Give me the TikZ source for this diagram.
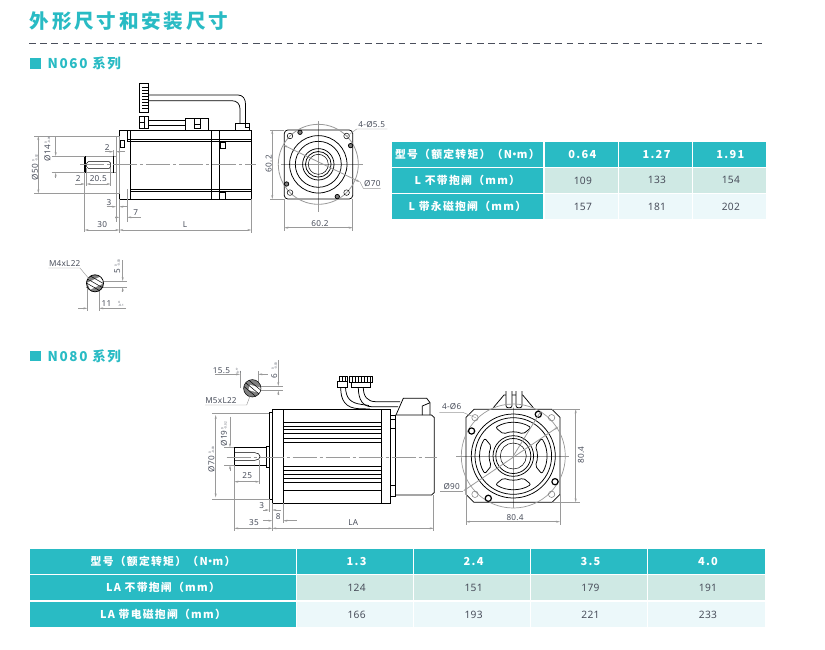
\documentclass[tikz,border=0pt]{standalone}
\usepackage{fontspec}
\setmainfont[LetterSpace=3]{Noto Sans}
\newfontfamily\cjk[LetterSpace=12]{Noto Sans CJK SC}
\newfontfamily\cjkwide[LetterSpace=14]{Noto Sans CJK SC}
\usetikzlibrary{arrows.meta}
\definecolor{teal}{HTML}{29BBC4}
\definecolor{rowa}{HTML}{CFE9E4}
\definecolor{rowb}{HTML}{ECF8FA}
\definecolor{inkgray}{HTML}{4A4F5C}
\definecolor{dimgray}{HTML}{9A9A9A}
\tikzset{
  part/.style={draw=black,line width=0.75pt},
  thin part/.style={draw=black,line width=0.5pt},
  ext/.style={draw=dimgray,line width=0.45pt},
  dimline/.style={draw=dimgray,line width=0.45pt,>={Stealth[length=4pt,width=2pt]}},
  axisline/.style={draw=dimgray,line width=0.4pt,dash pattern=on 24pt off 3pt on 3pt off 3pt},
  lab/.style={text=inkgray,font=\fontsize{8.2}{9}\selectfont,inner sep=0},
  tol/.style={text=inkgray,font=\fontsize{3}{3.2}\selectfont,inner sep=0,align=left},
  headcell/.style={fill=teal,text=white,inner sep=0,outer sep=0,font=\cjk\bfseries\fontsize{10.8}{12}\selectfont},
  valcell/.style={fill=teal,text=white,inner sep=0,outer sep=0,font=\cjk\bfseries\fontsize{11}{12}\selectfont},
  acell/.style={fill=rowa,text=inkgray,inner sep=0,outer sep=0,font=\fontsize{10.2}{12}\selectfont},
  bcell/.style={fill=rowb,text=inkgray,inner sep=0,outer sep=0,font=\fontsize{10.2}{12}\selectfont},
  heading/.style={text=teal,inner sep=0,anchor=west,font=\cjk\bfseries\fontsize{13.5}{14}\selectfont},
  bullet/.style={fill=teal,inner sep=0,minimum size=10.5pt},
}
% cell: name, x1, x2, y1, y2, style, text
\newcommand\tcell[7]{%
  \pgfmathsetmacro\cw{#3-#2}\pgfmathsetmacro\ch{#5-#4}%
  \pgfmathsetmacro\cx{(#2+#3)/2}\pgfmathsetmacro\cy{(#4+#5)/2}%
  \node[#6,minimum width=\cw pt,minimum height=\ch pt] (#1) at (\cx,\cy) {#7};}
\newcommand\dimh[3]{\draw[dimline,<->] (#1,#3) -- (#2,#3);}
\newcommand\dimv[3]{\draw[dimline,<->] (#3,#1) -- (#3,#2);}

\begin{document}
\begin{tikzpicture}[x=1pt,y=-1pt]
  % Boundary
  \path[use as bounding box,fill=white] (0,0) rectangle (825,649);
  % Title
  \node[text=teal,inner sep=0,anchor=west,font=\cjkwide\bfseries\fontsize{19.6}{20}\selectfont] (title) at (29.5,21.5) {外形尺寸和安装尺寸};
  \draw[draw=inkgray,line width=0.8pt,dash pattern=on 6.6pt off 4.6pt] (29,43.5) -- (762,43.5);
  \node[bullet] (bulleta) at (35.7,63.7) {};
  \node[heading] (heada) at (47.5,63.7) {N060 系列};
  \node[bullet] (bulletb) at (35.7,356) {};
  \node[heading] (headb) at (47.5,356) {N080 系列};

  % Table N060
  \tcell{ta0}{391.7}{543}{141.7}{166.7}{headcell}{型号（额定转矩）（N\kern-3pt•\kern-3pt m）}
  \tcell{ta1}{391.7}{543}{168}{192.7}{headcell}{L 不带抱闸（mm）}
  \tcell{ta2}{391.7}{543}{194.3}{219}{headcell}{L 带永磁抱闸（mm）}
  \foreach \nm/\xa/\xb/\va/\vb/\vc in {a/544.7/618/0.64/109/157,b/619/692/1.27/133/181,c/693/765.7/1.91/154/202}{
    \tcell{ta0\nm}{\xa}{\xb}{141.7}{166.7}{valcell}{\kern2pt\va}
    \tcell{ta1\nm}{\xa}{\xb}{168}{192.7}{acell}{\kern3pt\vb}
    \tcell{ta2\nm}{\xa}{\xb}{194.3}{219}{bcell}{\kern3pt\vc}
  }
  % Table N080
  \tcell{tb0}{30}{296}{549}{574}{headcell}{型号（额定转矩）（N\kern-3pt•\kern-3pt m）}
  \tcell{tb1}{30}{296}{575}{600}{headcell}{LA 不带抱闸（mm）}
  \tcell{tb2}{30}{296}{602}{627}{headcell}{LA 带电磁抱闸（mm）}
  \foreach \nm/\xa/\xb/\va/\vb/\vc in {a/297/413.3/1.3/124/166,b/414.3/530/2.4/151/193,c/531/647/3.5/179/221,d/648/765/4.0/191/233}{
    \tcell{tb0\nm}{\xa}{\xb}{549}{574}{valcell}{\kern3pt\va}
    \tcell{tb1\nm}{\xa}{\xb}{575}{600}{acell}{\kern3pt\vb}
    \tcell{tb2\nm}{\xa}{\xb}{602}{627}{bcell}{\kern3pt\vc}
  }

  % N060 side view
  \draw[part] (119.3,130.3) rectangle (251.3,199.3);
  \draw[part] (130.7,130.3) -- (130.7,199.3);
  \draw[thin part] (127.3,130.3) -- (127.3,141.3);
  \draw[part] (127.3,139.3) -- (251.3,139.3) (127.3,141.3) -- (251.3,141.3);
  \draw[part] (130.7,189.3) -- (251.3,189.3) (130.7,191.3) -- (251.3,191.3);
  \draw[part] (211.3,130.3) -- (211.3,199.3) (219.3,130.3) -- (219.3,199.3);
  \draw[thin part] (120,140.7) rectangle (124.7,147.3);
  \draw[thin part] (220,142) rectangle (225.3,148.7);
  \draw[thin part] (219.3,192.7) rectangle (225.3,199.3);
  % pilot and shaft
  \draw[ext] (116,136) rectangle (119.3,193.3);
  \draw[ext] (84.7,156) -- (116,156) (84.7,172.7) -- (116,172.7);
  \draw[part] (113.3,156) -- (113.3,172.7);
  \draw[line width=1.3pt] (85,156) -- (85,172.7);
  \draw[thin part,rounded corners=1.5pt] (86.7,161.7) rectangle (110.7,168.3);
  \draw[axisline] (80,164.3) -- (256,164.3);
  % connectors
  \draw[thin part] (139.3,83.3) rectangle (148,112.7);
  \foreach \yy in {87,90,93,96,99,102,105,108}{
    \draw[thin part] (142,\yy) -- (148,\yy);
  }
  \draw[part] (148,95) -- (238,95) .. controls (243,95) and (245.5,99) .. (245.5,104) -- (245.5,123.3);
  \draw[part] (148,100.7) -- (232,100.7) .. controls (237,100.7) and (240,104) .. (240,109) -- (240,123.3);
  \draw[part] (235.3,123.3) rectangle (249.3,130.3);
  \draw[part,fill=white] (245,123.3) rectangle (249.3,127.3);
  \draw[part] (139.3,116.7) rectangle (148.7,128.7);
  \draw[thin part] (139.3,122.7) -- (144,122.7) (144,116.7) -- (144,128.7);
  \draw[part] (148.7,120) -- (185.3,120) (148.7,125.3) -- (185.3,125.3);
  \draw[part] (185.3,118.3) rectangle (208.7,130.3);
  \draw[thin part] (194.7,118.3) -- (194.7,128.7) -- (200,128.7) -- (200,118.3) (194.7,124) -- (200,124);
  % N060 side dimensions
  \draw[ext] (34,136) -- (116,136) (34,193.3) -- (116,193.3);
  \dimv{136}{193.3}{38.3}
  \node[lab,rotate=90] (phiA) at (35,172) {Ø50};
  \node[tol,rotate=90] (phiAt) at (35,158) {0\\-0.02};
  \draw[ext] (51.7,156) -- (84.7,156) (51.7,172.7) -- (84.7,172.7);
  \draw[dimline,->] (55.7,136) -- (55.7,156);
  \draw[dimline,->] (55.7,178) -- (55.7,172.7);
  \node[lab,rotate=90] (phiB) at (47.5,153) {Ø14};
  \node[tol,rotate=90] (phiBt) at (47.5,140) {0\\-0.01};
  \draw[ext] (113.3,150) -- (113.3,156) (116,150) -- (116,156);
  \draw[dimline,->] (105,151.7) -- (113.3,151.7);
  \draw[dimline,->] (125,151.7) -- (116,151.7);
  \node[lab] (dimtwoa) at (107.3,148) {2};
  \draw[ext] (84.7,172.7) -- (84.7,232.3);
  \draw[ext] (86.7,168.3) -- (86.7,186) (110.7,168.3) -- (110.7,186);
  \draw[dimline,->] (75,184) -- (84.7,184);
  \node[lab] (dimtwob) at (78.3,179) {2};
  \dimh{86.7}{110.7}{184}
  \node[lab] (dimkey) at (98.3,179) {20.5};
  \draw[ext] (116,193.3) -- (116,222) (119.3,199.3) -- (119.3,232.7);
  \draw[dimline,->] (106.7,206.7) -- (116,206.7);
  \draw[dimline,->] (126.7,206.7) -- (119.3,206.7);
  \node[lab] (dimthree) at (109,202.5) {3};
  \draw[ext] (127.3,189.3) -- (127.3,221.7);
  \draw[dimline,->] (115,217.3) -- (119.3,217.3);
  \draw[dimline,->] (140.7,217.3) -- (127.3,217.3);
  \node[lab] (dimseven) at (135.7,212.5) {7};
  \dimh{84.7}{119.3}{230}
  \node[lab] (dimthirty) at (102.3,225) {30};
  \draw[ext] (251.3,199.3) -- (251.3,232.7);
  \dimh{119.3}{251.3}{230}
  \node[lab] (dimL) at (185,225) {L};

  % N060 front view
  \coordinate (ca) at (318.3,164.3);
  \draw[ext] (318.3,121) -- (318.3,212) (281,164.3) -- (363,164.3);
  \draw[part,rounded corners=3.5pt] (284.3,130) rectangle (352.7,199);
  \draw[ext,line width=0.8pt] (ca) circle[radius=40pt];
  \foreach \rr in {28.7,23,15.7,12.8}{
    \draw[part] (ca) circle[radius=\rr pt];
  }
  \draw[thin part] (ca) circle[radius=10pt];
  \foreach \dx/\dy in {-28.3/-28.3,28.3/-28.3,-28.3/28.3,28.3/28.3}{
    \draw[thin part] (318.3+\dx,164.3+\dy) circle[radius=2.8pt];
  }
  \foreach \dx/\dy in {-18.3/-32,32.3/-18.7,-31.7/19.7,19/32.3}{
    \draw[part,fill=gray] (318.3+\dx,164.3+\dy) circle[radius=2.2pt];
  }
  \draw[dimline,<->,line width=0.8pt] (283.3,145) -- (360,182);
  \draw[ext] (360,182) -- (363.3,188.3) -- (380.7,188.3);
  \node[lab] (phiC) at (372.3,183.5) {Ø70};
  \draw[ext] (347.3,136) -- (356.7,129) -- (387.3,129);
  \node[lab] (holesa) at (371.7,125) {4-Ø5.5};
  \draw[ext] (270,130) -- (284.3,130) (270,199) -- (284.3,199);
  \dimv{130}{199}{272.3}
  \node[lab,rotate=90] (sqa) at (268.8,163.5) {60.2};
  \draw[ext] (284.3,199) -- (284.3,231) (352.7,199) -- (352.7,231);
  \dimh{284.3}{352.7}{227.7}
  \node[lab] (sqb) at (320,224) {60.2};

  % N060 shaft section
  \coordinate (sa) at (95,283.3);
  \draw[ext] (87.3,283.3) -- (87.3,311) (99.3,283.3) -- (99.3,311);
  \draw[ext] (86,281) -- (126.7,281) (86,287.3) -- (126.7,287.3);
  \begin{scope}
    \clip (95,283.3) circle[radius=8.5pt];
    \fill[gray] (86,274) rectangle (104,293);
    \fill[white,rotate around={25:(sa)}] (88,279.5) rectangle (104,287);
    \foreach \oo in {-4,0,4}{
      \draw[thin part,rotate around={-30:(sa)}] (84,283.3+\oo) -- (106,283.3+\oo);
    }
  \end{scope}
  \draw[part] (sa) circle[radius=8.5pt];
  \draw[ext] (48.3,268) -- (80,268) -- (90,280);
  \node[lab] (keya) at (64.7,263.3) {M4xL22};
  \draw[dimline,->] (122.7,260) -- (122.7,281);
  \draw[dimline,->] (122.7,291.7) -- (122.7,287.3);
  \node[lab,rotate=90] (keyb) at (117.3,271) {5};
  \node[tol,rotate=90] (keybt) at (117.3,263) {0\\-0.03};
  \draw[dimline,->] (78.3,308.3) -- (87.3,308.3);
  \draw[dimline,->] (126,308.3) -- (99.3,308.3);
  \node[lab] (keyc) at (106.5,304) {11};
  \node[tol] (keyct) at (121,304) {0\\-0.1};

  % N080 side view
  \draw[part] (272.3,409.3) rectangle (390.7,503.3);
  \draw[part] (283.3,409.3) -- (283.3,503.3) (381.7,409.3) -- (381.7,503.3);
  \foreach \yy in {422.3,426,429.7,433.3,438.3,442,466.7,470.3,474.3,478.3,482.3,490}{
    \draw[part] (283.3,\yy) -- (381.7,\yy);
  }
  \draw[part] (269,412.7) rectangle (272.3,499.3);
  \draw[part] (266.7,446) rectangle (269,467.3);
  \draw[part] (234.3,447.3) -- (266.7,447.3) (234.3,465.3) -- (266.7,465.3);
  \draw[line width=1.2pt] (234.3,447.3) -- (234.3,465.3);
  \draw[thin part] (234.3,452.7) -- (255,452.7) .. controls (258,452.7) and (260,454.5) .. (260,456.5) .. controls (260,458.5) and (258,460.3) .. (255,460.3) -- (234.3,460.3);
  % rear cover
  \draw[part] (390.7,415) rectangle (395.7,496);
  \draw[thin part] (390.7,419.3) -- (395.7,419.3) (390.7,428.3) -- (395.7,428.3) (390.7,485) -- (395.7,485);
  \draw[part] (395.7,415) -- (431.5,415) -- (434.3,417.5) -- (434.3,492.5) -- (431.5,495) -- (395.7,495);
  \draw[part] (396,415) -- (403.3,398.3) -- (426.7,398.3) -- (430,402.7) -- (430,415);
  \draw[part] (422.3,415) -- (422.3,406) -- (430,402.7);
  % connectors and cables
  \draw[thin part] (337.7,381.7) rectangle (347.7,387.3);
  \draw[thin part] (339,376.7) rectangle (347.7,381.7);
  \draw[thin part] (349,376) rectangle (372.7,382.7);
  \draw[thin part] (351.7,382.7) rectangle (370,387.3);
  \foreach \xx in {342,345,352,355,358,361,364,367,370}{
    \draw[thin part] (\xx,376.5) -- (\xx,381.7);
  }
  \draw[part] (340.7,387.3) .. controls (340.7,400) and (345,408.5) .. (360,408.7) -- (370,409);
  \draw[part] (345.5,387.3) .. controls (346,398) and (350,403) .. (362,404.5) -- (369,405.5);
  \draw[part] (358.3,387.3) .. controls (358.3,400) and (363,406.7) .. (372,406.7) -- (398,406.7);
  \draw[part] (363.3,387.3) .. controls (363.3,396) and (367,401.7) .. (376,401.7) -- (400,401.7);
  \draw[axisline] (226.7,456.7) -- (436.7,456.7);
  % N080 side dimensions
  \draw[ext] (212,413.3) -- (269,413.3) (212,499.3) -- (269,499.3);
  \dimv{415}{497.3}{215.7}
  \node[lab,rotate=90] (phiD) at (211.5,464) {Ø70};
  \node[tol,rotate=90] (phiDt) at (211.5,450) {0\\-0.03};
  \draw[ext] (224.3,447.3) -- (234.3,447.3) (224.3,465.3) -- (234.3,465.3);
  \draw[dimline,->] (230,416.7) -- (230,447.3);
  \draw[dimline,->] (230,470.7) -- (230,465.3);
  \node[lab,rotate=90] (phiE) at (224,438.5) {Ø19};
  \node[tol,rotate=90] (phiEt) at (224,425.5) {0\\-0.02};
  \draw[ext] (234.3,465.3) -- (234.3,531) (259.3,460) -- (259.3,484);
  \dimh{234.3}{259.3}{481.7}
  \node[lab] (dimkeyb) at (247.3,476) {25};
  \draw[ext] (269,499.3) -- (269,512) (272.3,503.3) -- (272.3,531);
  \draw[dimline,->] (263.3,510) -- (269,510);
  \draw[dimline,->] (281,510) -- (272.3,510);
  \node[lab] (dimthreeb) at (261.7,506) {3};
  \draw[ext] (283.3,503.3) -- (283.3,523);
  \draw[dimline,->] (263,520.7) -- (272.3,520.7);
  \draw[dimline,->] (296.7,520.7) -- (283.3,520.7);
  \node[lab] (dimeight) at (278.3,516.5) {8};
  \dimh{234.3}{272.3}{528.3}
  \node[lab] (dimthirtyfive) at (254,522.7) {35};
  \draw[ext] (433.7,495) -- (433.7,531);
  \dimh{272.3}{433.7}{528.3}
  \node[lab] (dimLA) at (353.3,522.7) {LA};

  % N080 front view
  \coordinate (cb) at (513.3,456);
  \draw[ext] (513.3,405) -- (513.3,508) (456,456) -- (569,456);
  \draw[part,fill=white] (493.3,407.7) -- (504,395) -- (522.7,395) -- (533.3,407.7);
  \foreach \xx in {506,516}{
    \draw[part,fill=white,rounded corners=2pt] (\xx,391) -- (\xx,407.7) -- (\xx+6,407.7) -- (\xx+6,391);
  }
  \draw[part] (474,409.3) -- (552,409.3) -- (560,417.3) -- (560,494.3) -- (552,502.3) -- (474,502.3) -- (466,494.3) -- (466,417.3) -- cycle;
  \draw[ext,line width=0.7pt] (cb) circle[radius=52pt];
  \foreach \rr in {42,38.3,20.3,17.5}{
    \draw[part] (cb) circle[radius=\rr pt];
  }
  \draw[thin part] (cb) circle[radius=13pt];
  \begin{scope}[shift={(513.3,456)},x=1pt,y=1pt]
    \foreach \ang in {0,90,180,270}{
      \draw[part,rounded corners=2pt] (\ang-32:33.5) arc[start angle=\ang-32,end angle=\ang+32,radius=33.5] -- (\ang+24:24) arc[start angle=\ang+24,end angle=\ang-24,radius=24] -- cycle;
    }
  \end{scope}
  \foreach \dx/\dy in {-38.3/-38.3,38.3/-38.3,-38.3/38.3,38.3/38.3}{
    \draw[draw=gray,line width=0.55pt] (513.3+\dx,456+\dy) circle[radius=3.2pt];
  }
  \foreach \dx/\dy in {25/-41.7,-41.7/-25,41.7/25.7,-25/42.3}{
    \draw[line width=1.2pt] (513.3+\dx,456+\dy) circle[radius=3.1pt];
  }
  \draw[dimline,<->,line width=0.8pt] (558.3,426.7) -- (463.3,491);
  \draw[ext,line width=0.8pt] (cb) -- (541,411);
  \draw[ext] (440,491) -- (463.3,491);
  \node[lab] (phiF) at (451.7,486.7) {Ø90};
  \draw[ext] (439.3,412.3) -- (462.7,412.3) -- (475.7,417.7);
  \node[lab] (holesb) at (451.7,406.7) {4-Ø6};
  \draw[ext] (552,409.3) -- (580,409.3) (552,502.3) -- (580,502.3);
  \dimv{409.3}{502.3}{575.7}
  \node[lab,rotate=90] (sqc) at (581,455) {80.4};
  \draw[ext] (466,494.3) -- (466,525) (560,494.3) -- (560,525);
  \dimh{466}{560}{521.7}
  \node[lab] (sqd) at (515,518) {80.4};

  % N080 shaft section
  \coordinate (sb) at (252.3,388.3);
  \draw[ext] (240,388.3) -- (240,371) (258.3,388.3) -- (258.3,371);
  \draw[ext] (252,386) -- (283,386) (252,390.7) -- (283,390.7);
  \begin{scope}
    \clip (252.3,388.3) circle[radius=8.7pt];
    \fill[gray] (243,379) rectangle (262,398);
    \fill[white,rotate around={-15:(sb)}] (249,385.5) rectangle (262,391);
    \foreach \oo in {-4,0,4}{
      \draw[thin part,rotate around={-40:(sb)}] (241,388.3+\oo) -- (264,388.3+\oo);
    }
  \end{scope}
  \draw[thin part] (sb) circle[radius=8.7pt];
  \draw[dimline,->] (215,374.3) -- (240,374.3);
  \draw[dimline,->] (267.7,374.3) -- (258.3,374.3);
  \node[lab] (keyd) at (221.5,370.8) {15.5};
  \node[tol] (keydt) at (238.5,370.8) {0\\-0.1};
  \draw[dimline,->] (278.3,360) -- (278.3,386);
  \draw[dimline,->] (278.3,395) -- (278.3,390.7);
  \node[lab,rotate=90] (keye) at (274.3,376) {6};
  \node[tol,rotate=90] (keyet) at (274.3,366) {0\\-0.03};
  \draw[ext] (205,405) -- (246.7,405) -- (250,396);
  \node[lab] (keyf) at (221,400.5) {M5xL22};
\end{tikzpicture}
\end{document}
